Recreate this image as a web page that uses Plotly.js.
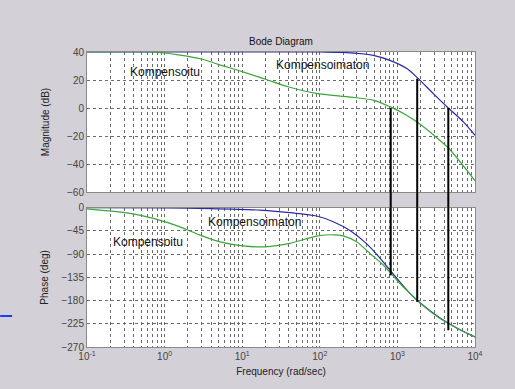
<!DOCTYPE html>
<html>
<head>
<meta charset="utf-8">
<script src="https://cdn.plot.ly/plotly-3.0.1.min.js"></script>
<style>html,body{margin:0;padding:0;background:#d4d0d7;}#chart{width:515px;height:389px;}</style>
</head>
<body>
<div id="chart"></div>
<script>
// Compensated (Kompensoitu) magnitude, dB
const magCompFreq = [0.1, 0.7, 1.5, 3, 5, 10, 20, 40, 90, 250, 500, 800, 1300, 2000, 3500, 4800, 10000];
const magCompVal  = [40, 40, 38, 35, 31, 26, 20.5, 15, 10.5, 7.8, 5.5, 1, -5, -12, -23, -30, -52];
// Uncompensated (Kompensoimaton) magnitude, dB
const magUncFreq = [0.1, 100, 200, 490, 800, 1320, 1860, 2900, 4530, 7080, 10000];
const magUncVal  = [40, 40, 39.7, 37.6, 34, 28.2, 21, 10.3, 0, -9.9, -19.5];
// Compensated phase, deg
const phCompFreq = [0.1, 0.147, 0.358, 0.715, 1.58, 2.86, 5.2, 10.3, 19.7, 41.3, 91, 149, 200, 298, 443, 658, 803, 1081, 1454, 1954, 3540, 5810, 10000];
const phCompVal  = [-2, -4.5, -11, -20.6, -37, -53, -66, -73.8, -75.7, -69, -55, -52.4, -54.4, -66, -88.6, -111, -125, -147, -166, -185, -214.8, -233, -250.6];
// Uncompensated phase, deg
const phUncFreq = [0.1, 1, 4, 17, 45, 91, 149, 245, 403, 600, 803, 1081, 1454, 1954, 3540, 5810, 10000];
const phUncVal  = [0, -0.5, -1.5, -4.5, -10, -16, -27, -44, -70, -98, -121, -144, -166, -184, -213.6, -233, -250.6];
// Black vertical marker lines (frequency, magnitude end, phase end)
const markFreq  = [820, 1800, 4530];
const markMag   = [0, 21, 0];
const markPhase = [-131, -182.5, -237.5];
// Ticks
const magTicks = [40, 20, 0, -20, -40, -60];
const phTicks  = [0, -45, -90, -135, -180, -225, -270];
const decades  = [-1, 0, 1, 2, 3, 4];

const blue = '#2a2aa8', green = '#3aa63a';
const topDom = [0.5254, 1], botDom = [0, 0.472];
const FONT = 'Liberation Sans, Arial, sans-serif';

const xTickVals = decades.map(d => Math.pow(10, d));
const xTickText = decades.map(d => '10<sup>' + d + '</sup>');
const xMinorVals = [];
decades.forEach(d => { if (d < 4) for (let m = 2; m <= 9; m++) xMinorVals.push(m * Math.pow(10, d)); });

const traces = [
  {x: magUncFreq, y: magUncVal, xaxis: 'x2', yaxis: 'y', mode: 'lines', line: {color: blue, width: 1.2, shape: 'spline', smoothing: 0.8}},
  {x: magCompFreq, y: magCompVal, xaxis: 'x2', yaxis: 'y', mode: 'lines', line: {color: green, width: 1.2, shape: 'spline', smoothing: 0.8}},
  {x: phUncFreq, y: phUncVal, xaxis: 'x', yaxis: 'y2', mode: 'lines', line: {color: blue, width: 1.2, shape: 'spline', smoothing: 0.8}},
  {x: phCompFreq, y: phCompVal, xaxis: 'x', yaxis: 'y2', mode: 'lines', line: {color: green, width: 1.2, shape: 'spline', smoothing: 0.8}}
];
const shapes = [];
markFreq.forEach((f, i) => {
  traces.push({x: [f, f], y: [markMag[i], magTicks[magTicks.length - 1] - 10], xaxis: 'x2', yaxis: 'y', mode: 'lines', line: {color: '#000', width: 2}});
  traces.push({x: [f, f], y: [phTicks[0] + 10, markPhase[i]], xaxis: 'x', yaxis: 'y2', mode: 'lines', line: {color: '#000', width: 2}});
  shapes.push({type: 'line', xref: 'x', yref: 'paper', x0: f, x1: f, y0: botDom[1], y1: topDom[0], line: {color: '#000', width: 2}});
});
// stray blue stroke at the left edge of the image
shapes.push({type: 'line', xref: 'paper', yref: 'paper', x0: -0.224, x1: -0.193, y0: 0.105, y1: 0.105, line: {color: '#1a3cff', width: 2}});

const tickFont = {family: FONT, size: 10, color: '#444'};
const gridStyle = {showgrid: true, gridcolor: '#6a6a6a', griddash: '3px,3px', gridwidth: 1,
  showline: true, linecolor: '#8a8a8a', linewidth: 1, mirror: true, zeroline: false, ticks: ''};
const minorX = {tickvals: xMinorVals, showgrid: true, gridcolor: '#6a6a6a', griddash: '3px,3px', gridwidth: 1, ticks: ''};

const layout = {
  width: 515, height: 389,
  paper_bgcolor: '#d4d0d7', plot_bgcolor: '#ffffff',
  showlegend: false,
  margin: {l: 87, r: 40, t: 52, b: 42},
  title: {text: 'Bode Diagram', font: {family: FONT, size: 10, color: '#111'}, x: 0.5, xref: 'paper', y: 1, yref: 'paper', yanchor: 'bottom', pad: {b: 7}},
  xaxis: Object.assign({}, gridStyle, {type: 'log', range: [-1, 4], domain: [0, 1], anchor: 'y2',
    tickvals: xTickVals, ticktext: xTickText, tickfont: tickFont, tickangle: 0, minor: minorX,
    title: {text: 'Frequency (rad/sec)', font: {family: FONT, size: 10, color: '#222'}, standoff: 6}}),
  xaxis2: Object.assign({}, gridStyle, {type: 'log', range: [-1, 4], domain: [0, 1], anchor: 'y', matches: 'x',
    tickvals: xTickVals, showticklabels: false, minor: minorX}),
  yaxis: Object.assign({}, gridStyle, {domain: topDom, range: [-60, 40], anchor: 'x2', tickvals: magTicks, tickfont: tickFont,
    title: {text: 'Magnitude (dB)', font: {family: FONT, size: 10, color: '#222'}, standoff: 15}}),
  yaxis2: Object.assign({}, gridStyle, {domain: botDom, range: [-270, 0], anchor: 'x', tickvals: phTicks, tickfont: tickFont,
    title: {text: 'Phase (deg)', font: {family: FONT, size: 10, color: '#222'}, standoff: 10}}),
  shapes: shapes,
  annotations: [
    {text: 'Kompensoitu', xref: 'x2', yref: 'y', x: Math.log10(1.0), y: 25.7, showarrow: false, font: {family: FONT, size: 12, color: '#111'}},
    {text: 'Kompensoimaton', xref: 'x2', yref: 'y', x: Math.log10(107), y: 30.5, showarrow: false, font: {family: FONT, size: 12, color: '#111'}},
    {text: 'Kompensoitu', xref: 'x', yref: 'y2', x: Math.log10(0.61), y: -66, showarrow: false, font: {family: FONT, size: 12, color: '#111'}},
    {text: 'Kompensoimaton', xref: 'x', yref: 'y2', x: Math.log10(14.6), y: -27, showarrow: false, font: {family: FONT, size: 12, color: '#111'}}
  ]
};

Plotly.newPlot('chart', traces, layout, {displayModeBar: false, staticPlot: true});
</script>
</body>
</html>
